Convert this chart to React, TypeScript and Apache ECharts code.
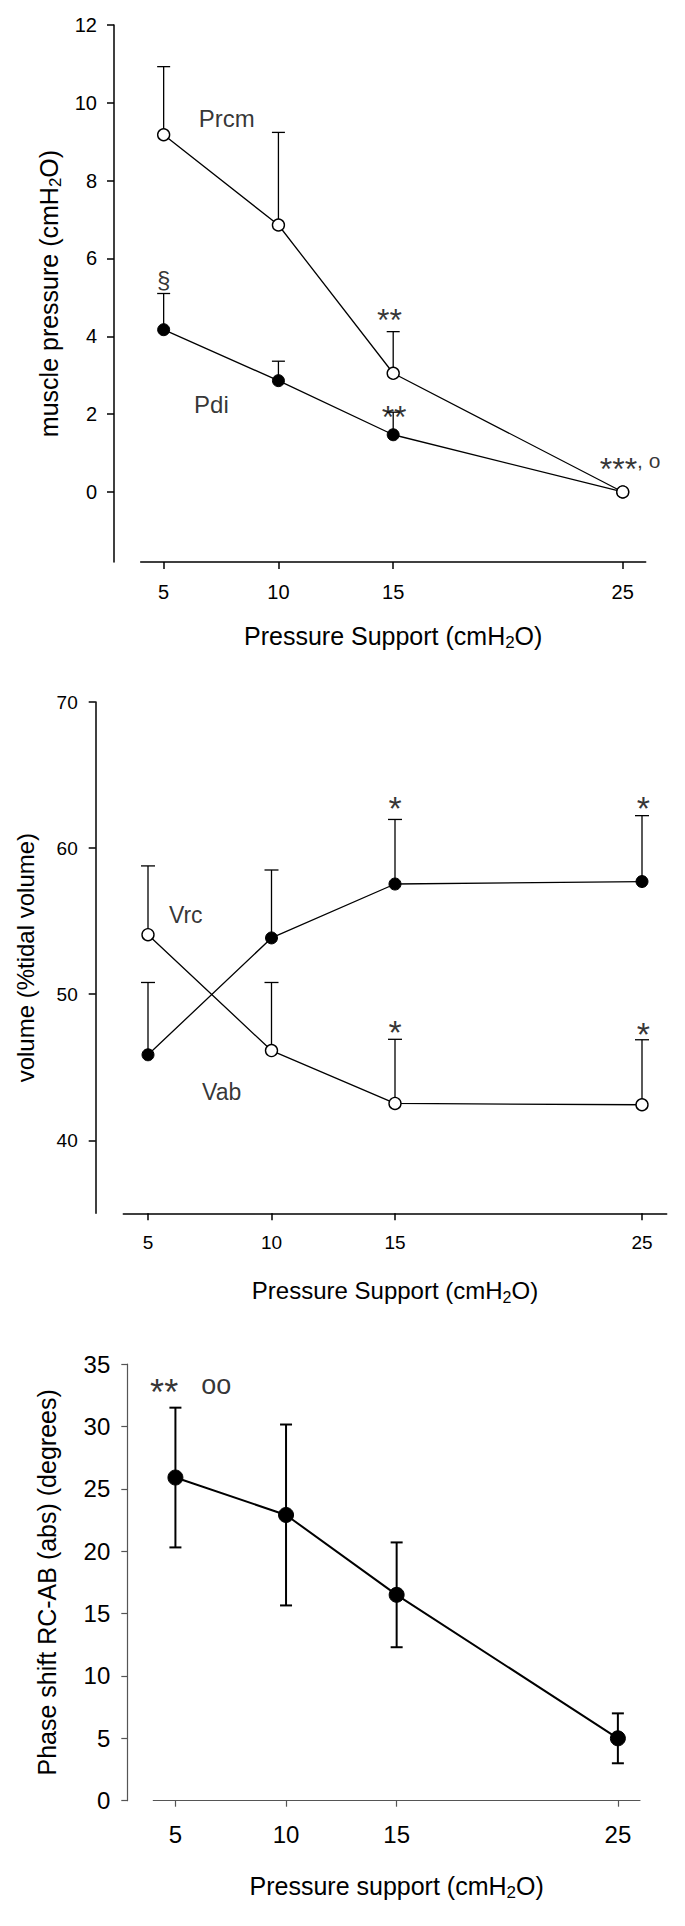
import React, { useEffect, useRef } from "react";
import * as echarts from "echarts";

// ---------- data ----------
const pressureSupport = [5, 10, 15, 25];
const xTickValues = [5, 10, 15, 25];

// Panel 1: muscle pressure (cmH2O)
const prcmMean = [9.18, 6.86, 3.05, 0];
const prcmSD = [1.75, 2.38, 1.07, 0];
const pdiMean = [4.17, 2.86, 1.47, 0];
const pdiSD = [0.93, 0.5, 0.58, 0];
const yTicks1 = [0, 2, 4, 6, 8, 10, 12];
const notes1 = [
  { text: "Prcm", x: 7.75, y: 9.61 },
  { text: "Pdi", x: 7.08, y: 2.25 },
  { text: "§", x: 5, y: 5.46 },
  { text: "**", x: 14.84, y: 4.64 },
  { text: "**", x: 15.04, y: 2.15 },
  { text: "***, o", x: 25.32, y: 0.8 },
];

// Panel 2: volume (%tidal volume)
const vrcMean = [45.85, 53.85, 57.54, 57.71];
const vrcSD = [4.95, 4.65, 4.42, 4.51];
const vabMean = [54.07, 46.14, 42.52, 42.43];
const vabSD = [4.71, 4.66, 4.39, 4.45];
const yTicks2 = [40, 50, 60, 70];
const notes2 = [
  { text: "Vrc", x: 6.53, y: 55.42 },
  { text: "Vab", x: 7.98, y: 43.33 },
  { text: "*", x: 15, y: 63.36 },
  { text: "*", x: 25.05, y: 63.36 },
  { text: "*", x: 15, y: 48.0 },
  { text: "*", x: 25.05, y: 47.86 },
];

// Panel 3: phase shift RC-AB (abs) (degrees)
const phaseMean = [25.9, 22.9, 16.5, 5.0];
const phaseSD = [5.6, 7.25, 4.2, 2.0];
const yTicks3 = [0, 5, 10, 15, 20, 25, 30, 35];
const notes3 = [
  { text: "**", x: 4.49, y: 33.45 },
  { text: "oo", x: 6.85, y: 33.3 },
];

// ---------- helpers ----------
const FONT = "'Liberation Sans', Arial, Helvetica, sans-serif";
const INK = "#000";

function pairs(means: number[]) {
  return pressureSupport.map((x, i) => [x, means[i]]);
}

function errorBars(idx: number, means: number[], sds: number[], both: boolean, capW: number, lw: number, color: string) {
  return {
    type: "custom",
    xAxisIndex: idx,
    yAxisIndex: idx,
    z: 1,
    silent: true,
    data: pressureSupport.map((x, i) => [x, means[i], sds[i]]),
    encode: { x: 0, y: 1 },
    renderItem: (params: any, api: any) => {
      const x = api.value(0);
      const m = api.value(1);
      const s = api.value(2);
      if (!s) return null;
      const p = api.coord([x, m]);
      const hi = api.coord([x, m + s]);
      const st = { stroke: color, lineWidth: lw, fill: "none" };
      const children: any[] = [
        { type: "line", shape: { x1: p[0], y1: p[1], x2: hi[0], y2: hi[1] }, style: st },
        { type: "line", shape: { x1: hi[0] - capW / 2, y1: hi[1], x2: hi[0] + capW / 2, y2: hi[1] }, style: st },
      ];
      if (both) {
        const lo = api.coord([x, m - s]);
        children.push(
          { type: "line", shape: { x1: p[0], y1: p[1], x2: lo[0], y2: lo[1] }, style: st },
          { type: "line", shape: { x1: lo[0] - capW / 2, y1: lo[1], x2: lo[0] + capW / 2, y2: lo[1] }, style: st }
        );
      }
      return { type: "group", children };
    },
  };
}

function lineSeries(idx: number, name: string, means: number[], open: boolean, size: number, lw: number, z: number) {
  return {
    type: "line",
    name,
    xAxisIndex: idx,
    yAxisIndex: idx,
    z,
    data: pairs(means),
    symbol: "circle",
    symbolSize: size,
    showSymbol: true,
    lineStyle: { color: "#000", width: lw },
    itemStyle: open
      ? { color: "#fff", borderColor: "#000", borderWidth: 1.4 }
      : { color: "#000", borderColor: "#000", borderWidth: 1 },
    emphasis: { disabled: true },
  };
}

function toRich(text: string) {
  const runs = text.match(/\*+|[^*]+/g) || [];
  return runs
    .map((r) => {
      if (/^\*+$/.test(r)) return `{s|${r}}`;
      if (/^[o ,]+$/.test(r)) return `{c|${r}}`;
      return `{t|${r}}`;
    })
    .join("");
}

function notesSeries(idx: number, notes: { text: string; x: number; y: number }[], starSize: number, textSize: number, circSize: number) {
  const pad = Math.round(starSize * 0.54);
  return {
    type: "scatter",
    xAxisIndex: idx,
    yAxisIndex: idx,
    z: 5,
    silent: true,
    symbol: "circle",
    symbolSize: 1,
    itemStyle: { color: "rgba(0,0,0,0)" },
    data: notes.map((n) => ({ name: n.text, value: [n.x, n.y] })),
    label: {
      show: true,
      position: "inside",
      color: INK,
      fontFamily: FONT,
      formatter: (p: any) => toRich(p.name),
      rich: {
        s: { fontSize: starSize, color: INK, fontFamily: FONT, padding: [pad, 0, 0, 0] },
        t: { fontSize: textSize, color: INK, fontFamily: FONT },
        c: { fontSize: circSize, color: INK, fontFamily: FONT },
      },
    },
    emphasis: { disabled: true },
  };
}

function titleStyle(size: number) {
  return {
    fontSize: size,
    color: INK,
    fontFamily: FONT,
    lineHeight: 30,
    rich: {
      sub: { fontSize: Math.round(size * 0.68), lineHeight: 12, verticalAlign: "bottom", color: INK, fontFamily: FONT },
    },
  };
}

function xAxis(idx: number, name: string, opts: any) {
  return {
    type: "value",
    gridIndex: idx,
    min: 4,
    max: 26,
    name,
    nameLocation: "middle",
    nameGap: opts.nameGap,
    nameTextStyle: titleStyle(opts.titleSize),
    axisLine: { show: true, onZero: false, lineStyle: { color: opts.axisColor, width: opts.axisWidth } },
    axisTick: { show: true, customValues: xTickValues, length: opts.tickLen, lineStyle: { color: opts.axisColor, width: opts.axisWidth } },
    axisLabel: { customValues: xTickValues, fontSize: opts.labelSize, color: INK, fontFamily: FONT, margin: opts.labelMargin },
    splitLine: { show: false },
  };
}

function yAxis(idx: number, name: string, min: number, max: number, ticks: number[], opts: any) {
  return {
    type: "value",
    gridIndex: idx,
    min,
    max,
    offset: opts.offset,
    name,
    nameLocation: "middle",
    nameGap: opts.nameGap,
    nameTextStyle: titleStyle(opts.titleSize),
    axisLine: { show: true, onZero: false, lineStyle: { color: opts.axisColor, width: opts.axisWidth } },
    axisTick: { show: true, customValues: ticks, length: opts.tickLen, lineStyle: { color: opts.axisColor, width: opts.axisWidth } },
    axisLabel: { customValues: ticks, fontSize: opts.labelSize, color: INK, fontFamily: FONT, margin: opts.labelMargin },
    splitLine: { show: false },
  };
}

const style1 = { axisColor: "#000", axisWidth: 1.5, tickLen: 7, labelSize: 20, titleSize: 25 };
const style2 = { axisColor: "#000", axisWidth: 1.5, tickLen: 7, labelSize: 19, titleSize: 24 };
const style3 = { axisColor: "#555", axisWidth: 1.2, tickLen: 6, labelSize: 24, titleSize: 25 };

const option: any = {
  animation: false,
  backgroundColor: "#fff",
  textStyle: { fontFamily: FONT },
  grid: [
    { left: 140.7, top: 25, width: 505, height: 537 },
    { left: 123.3, top: 702, width: 543.4, height: 511.3 },
    { left: 153.3, top: 1364, width: 486.7, height: 436.7 },
  ],
  xAxis: [
    xAxis(0, "Pressure Support (cmH{sub|2}O)", { ...style1, nameGap: 59, labelMargin: 20 }),
    xAxis(1, "Pressure Support (cmH{sub|2}O)", { ...style2, nameGap: 62, labelMargin: 20 }),
    xAxis(2, "Pressure support (cmH{sub|2}O)", { ...style3, nameGap: 70, labelMargin: 22 }),
  ],
  yAxis: [
    yAxis(0, "muscle pressure (cmH{sub|2}O)", -1.8, 12, yTicks1, { ...style1, offset: 26.7, nameGap: 45, labelMargin: 17 }),
    yAxis(1, "volume (%tidal volume)", 35, 70, yTicks2, { ...style2, offset: 27.6, nameGap: 55, labelMargin: 18 }),
    yAxis(2, "Phase shift RC-AB (abs) (degrees)", 0, 35, yTicks3, { ...style3, offset: 26, nameGap: 65, labelMargin: 17 }),
  ],
  series: [
    errorBars(0, prcmMean, prcmSD, false, 13, 1.3, "#000"),
    errorBars(0, pdiMean, pdiSD, false, 13, 1.3, "#000"),
    lineSeries(0, "Pdi", pdiMean, false, 12, 1.3, 2),
    lineSeries(0, "Prcm", prcmMean, true, 12, 1.3, 3),
    notesSeries(0, notes1, 32, 24, 21),

    errorBars(1, vrcMean, vrcSD, false, 14, 1.3, "#000"),
    errorBars(1, vabMean, vabSD, false, 14, 1.3, "#000"),
    lineSeries(1, "Vrc", vrcMean, false, 12, 1.3, 2),
    lineSeries(1, "Vab", vabMean, true, 12, 1.3, 3),
    notesSeries(1, notes2, 34, 23, 20),

    errorBars(2, phaseMean, phaseSD, true, 12, 2, "#000"),
    lineSeries(2, "Phase shift", phaseMean, false, 15, 2, 2),
    notesSeries(2, notes3, 36, 24, 27),
  ],
};

export default function App() {
  const ref = useRef<HTMLDivElement>(null);
  useEffect(() => {
    document.body.style.margin = "0";
    const chart = echarts.init(ref.current as HTMLDivElement, null, { renderer: "svg" });
    chart.setOption(option);
    return () => chart.dispose();
  }, []);
  return (
    <div
      ref={ref}
      style={{ position: "absolute", left: 0, top: 0, width: 685, height: 1926, background: "#fff" }}
    />
  );
}
